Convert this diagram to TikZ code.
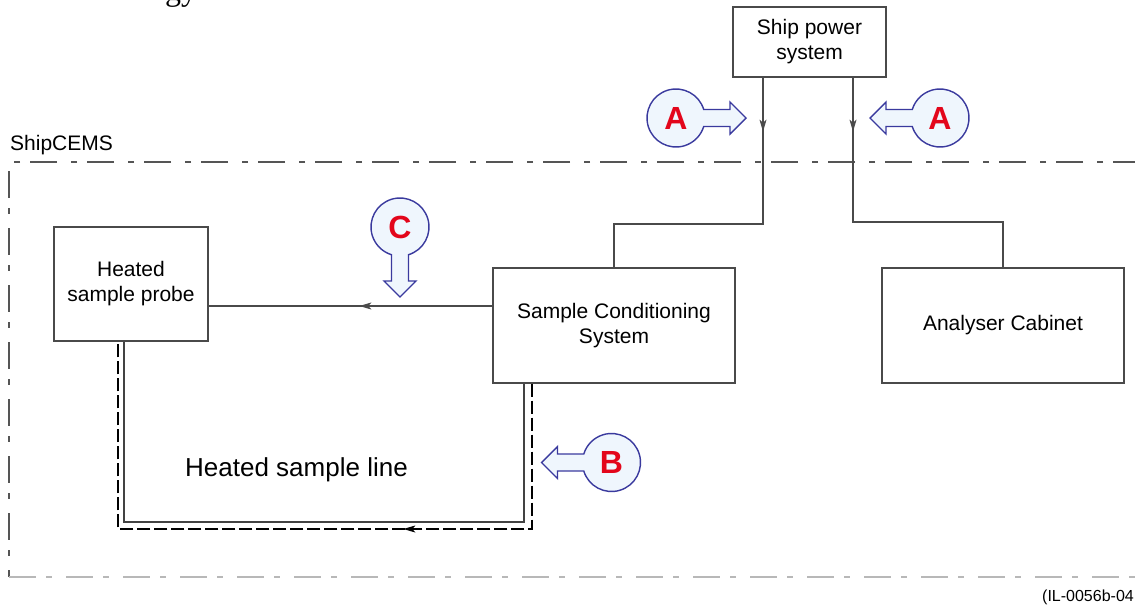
\documentclass[tikz,border=0pt]{standalone}
\usepackage{fontspec}
\setmainfont{Liberation Sans}
\newfontfamily\serifgy{Liberation Serif}
\usetikzlibrary{arrows.meta,decorations.markings}
\definecolor{boxgray}{HTML}{4A4A4A}
\definecolor{framegray}{HTML}{555555}
\definecolor{framelight}{HTML}{B8B8B8}
\definecolor{balloonblue}{HTML}{3A3A9E}
\definecolor{balloonfill}{HTML}{EFF6FD}
\definecolor{letterred}{HTML}{E3061B}
\tikzset{
  box/.style={draw=boxgray, line width=1.3pt, fill=white, align=center,
    font=\fontsize{21}{25}\selectfont, inner sep=0pt},
  wire/.style={draw=boxgray, line width=1.3pt},
  heatline/.style={draw=boxgray!90!black, line width=1.8pt},
  heatdash/.style={draw=black, line width=1.2pt, dash pattern=on 13pt off 4pt},
  frameline/.style={draw=framegray, line width=1.2pt, dash pattern=on 27pt off 10pt on 6pt off 14pt},
  midarrow/.style={postaction={decorate}, decoration={markings,
    mark=at position #1 with {\arrow{Stealth[length=12pt,width=7pt,inset=3pt]}}}},
  balloonline/.style={draw=balloonblue, fill=balloonfill, line width=1.4pt, line join=miter},
  letter/.style={text=letterred, font=\bfseries\fontsize{32}{32}\selectfont, inner sep=0pt},
  balloon/.pic={
    \path[balloonline] (17:29) -- (54,8.5) -- (54,16) -- (70,0) -- (54,-16) -- (54,-8.5)
      -- (-17:29) arc[start angle=-17, end angle=-343, radius=29] -- cycle;
  }
}
\begin{document}
\begin{tikzpicture}[x=1pt,y=-1pt]
\useasboundingbox (0,0) rectangle (1135,605);

% cut-off fragment at the top
\node[font=\serifgy\fontsize{32}{32}\selectfont, anchor=base west, inner sep=0pt] (frag) at (165,0) {gy};

% ShipCEMS frame
\node[anchor=base west, font=\fontsize{21}{25}\selectfont, inner sep=0pt] (cems) at (10,150) {ShipCEMS};
\coordinate (ftr) at (1140,162);
\coordinate (ftl) at (9,162);
\coordinate (fbl) at (9,577);
\coordinate (fbr) at (1140,577);
\path[frameline] (ftr) -- (ftl) -- (fbl);
\path[frameline, draw=framelight] (fbl) -- (fbr);

% boxes
\node[box, minimum width=153pt, minimum height=70pt] (sps) at (809.5,42) {Ship power\\system};
\node[box, minimum width=154pt, minimum height=114pt] (probe) at (131,284) {Heated\\sample probe};
\node[box, minimum width=242pt, minimum height=115pt] (scs) at (614,325.5) {Sample Conditioning\\System};
\node[box, minimum width=242pt, minimum height=115pt] (anc) at (1003,325.5) {Analyser Cabinet};

% power connections
\coordinate (p1) at (763,224);
\coordinate (p2) at (853,222);
\path[wire, midarrow=54pt] (sps.south -| p1) -- (p1) -| (scs.north);
\path[wire, midarrow=54pt] (sps.south -| p2) -- (p2) -| (anc.north);

% sample line to probe
\coordinate (hl) at (300,306);
\path[wire, midarrow=133pt] (scs.west |- hl) -- (probe.east |- hl);

% heated sample line
\coordinate (hs1) at (124,522);
\coordinate (hs2) at (524,522);
\coordinate (hd1) at (118,529);
\coordinate (hd2) at (532,529);
\path[heatline] (probe.south -| hs1) -- (hs1) -- (hs2) -- (scs.south -| hs2);
\path[heatdash, midarrow=274pt] (scs.south -| hd2) -- (hd2) -- (hd1) -- (probe.south -| hd1);
\node[font=\fontsize{26}{30}\selectfont, inner sep=0pt] (hsl) at (296.5,470) {Heated sample line};

% balloons
\pic at (676,118) {balloon};
\node[letter] (la1) at (676,118) {A};
\pic[rotate=180] at (940,118) {balloon};
\node[letter] (la2) at (940,118) {A};
\pic[rotate=-90] at (400,227) {balloon};
\node[letter] (lc) at (400,227) {C};
\pic[rotate=180] at (611.5,462.5) {balloon};
\node[letter] (lb) at (611.5,462.5) {B};

% reference id
\node[anchor=base east, font=\fontsize{16}{18}\selectfont, inner sep=0pt] (il) at (1134,601) {(IL-0056b-04};
\end{tikzpicture}
\end{document}
